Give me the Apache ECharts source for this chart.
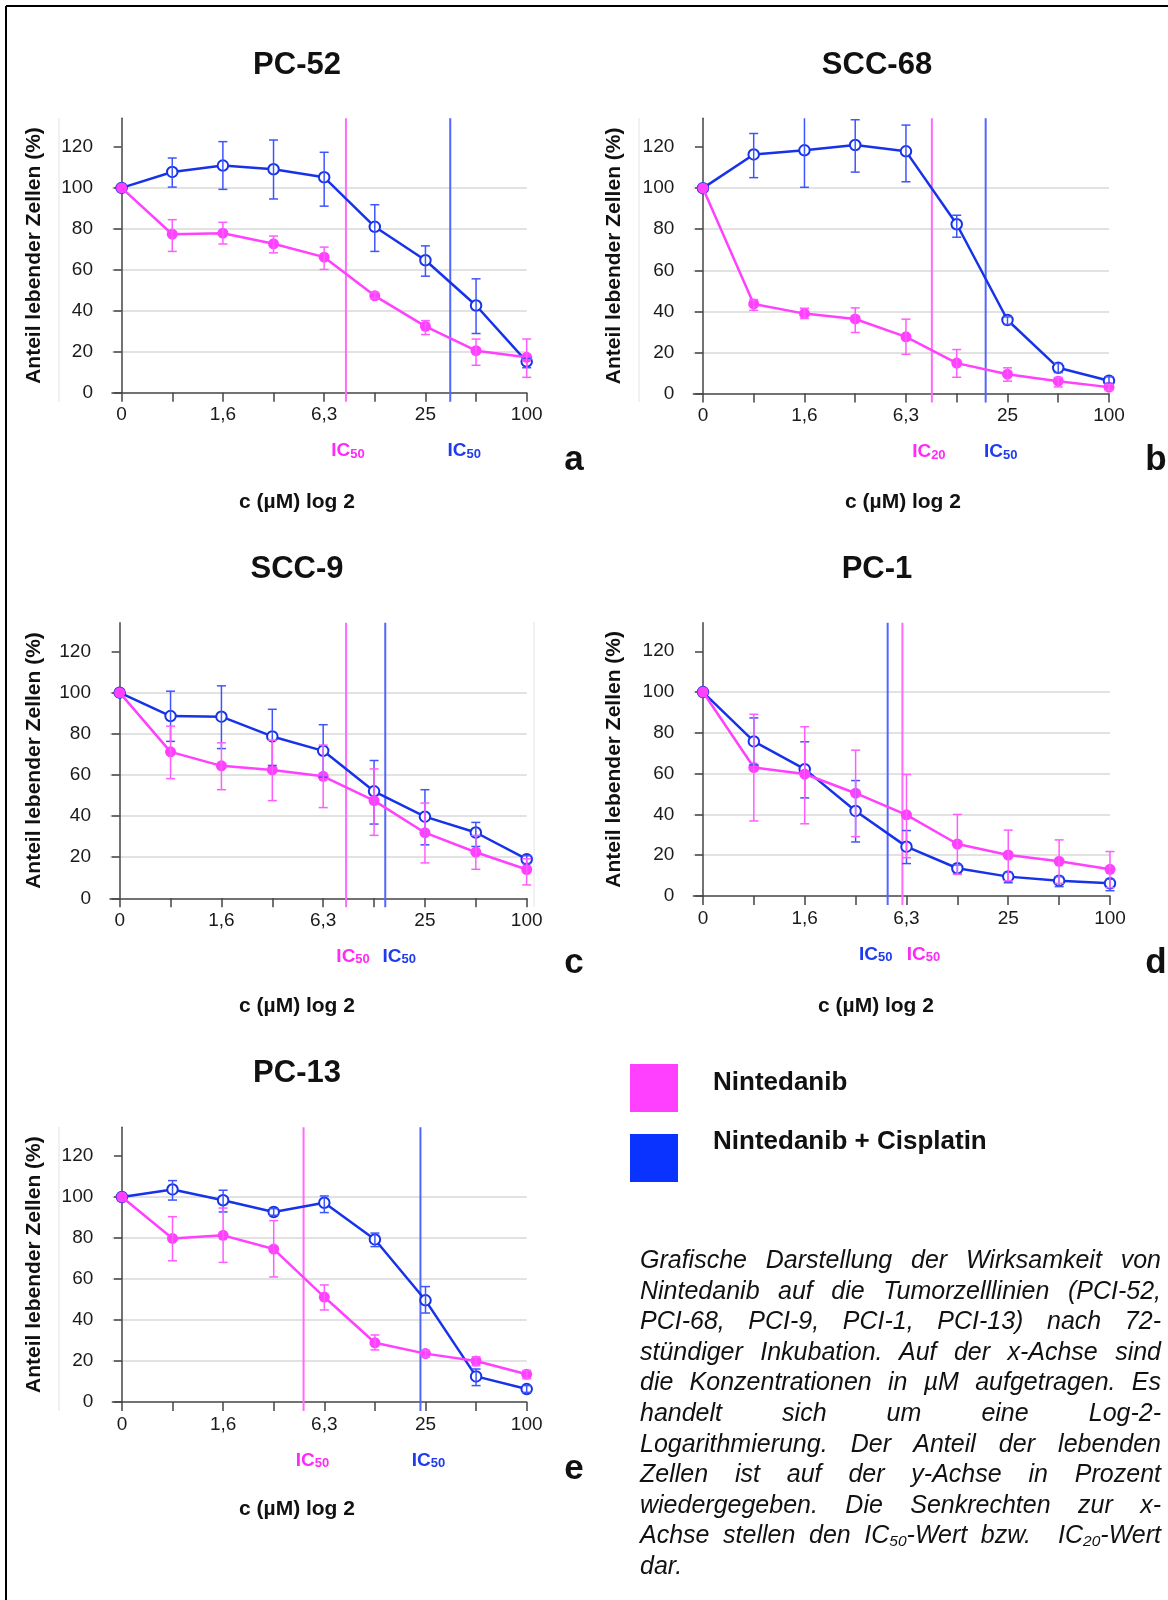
<!DOCTYPE html>
<html>
<head>
<meta charset="utf-8">
<script src="https://cdn.jsdelivr.net/npm/echarts@6/dist/echarts.min.js"></script>
<style>
html,body{margin:0;padding:0;background:#fff;}
#chart{position:absolute;left:0;top:0;width:1168px;height:1600px;}
#caption{position:absolute;left:640px;top:1244px;width:521px;font-family:"Liberation Sans",Arial,sans-serif;font-style:italic;font-size:25px;line-height:30.6px;color:#111;}
#caption .j{text-align:justify;text-align-last:justify;}
#caption sub{font-size:0.62em;line-height:0;vertical-align:-0.2em;}
</style>
</head>
<body>
<div id="chart"></div>
<div id="caption">
<div class="j">Grafische Darstellung der Wirksamkeit von</div>
<div class="j">Nintedanib auf die Tumorzelllinien (PCI-52,</div>
<div class="j">PCI-68, PCI-9, PCI-1, PCI-13) nach 72-</div>
<div class="j">stündiger Inkubation. Auf der x-Achse sind</div>
<div class="j">die Konzentrationen in µM aufgetragen. Es</div>
<div class="j">handelt sich um eine Log-2-</div>
<div class="j">Logarithmierung. Der Anteil der lebenden</div>
<div class="j">Zellen ist auf der y-Achse in Prozent</div>
<div class="j">wiedergegeben. Die Senkrechten zur x-</div>
<div class="j">Achse stellen den IC<sub>50</sub>-Wert bzw. &nbsp;IC<sub>20</sub>-Wert</div>
<div>dar.</div>
</div>
<script>
// ---------------- DATA ----------------
const panelNames = ['PC-52', 'SCC-68', 'SCC-9', 'PC-1', 'PC-13'];
const panelLetters = ['a', 'b', 'c', 'd', 'e'];
const seriesNames = ['Nintedanib', 'Nintedanib + Cisplatin'];
const xAxisTitle = 'c (µM) log 2';
const yAxisTitle = 'Anteil lebender Zellen (%)';
// concentration steps (log2 scale, index positions) and their tick labels
const concIndex = [0, 1, 2, 3, 4, 5, 6, 7, 8];
const xTickLabels = ['0', '', '1,6', '', '6,3', '', '25', '', '100'];
const xLabelSteps = [0, 2, 4, 6, 8];
const yTickValues = [0, 20, 40, 60, 80, 100, 120];

// PC-52 (a)
const ninA    = [100, 77.4, 77.9, 72.7, 66.2, 47.3, 32.4, 20.5, 17.3];
const ninAHi  = [null, 84.5, 83.2, 76.5, 71.1, 49.0, 35.2, 26.2, 26.2];
const ninALo  = [null, 69.0, 72.6, 68.3, 60.2, 46.0, 28.4, 13.4, 7.5];
const cisA    = [100, 107.8, 110.9, 109.1, 105.2, 81.0, 64.7, 42.6, 15.2];
const cisAHi  = [null, 114.6, 122.6, 123.4, 117.4, 91.8, 71.7, 55.6, 16.8];
const cisALo  = [null, 100.4, 99.3, 94.6, 91.1, 69.0, 56.9, 28.9, 12.2];
// SCC-68 (b)
const ninB    = [100, 43.6, 38.9, 36.3, 27.6, 14.8, 9.4, 6.0, 3.1];
const ninBHi  = [null, 45.7, 41.5, 41.7, 36.2, 21.4, 12.5, 7.8, 4.5];
const ninBLo  = [null, 40.5, 36.5, 29.7, 19.1, 7.9, 6.0, 3.2, 1.5];
const cisB    = [100, 116.4, 118.4, 121.0, 117.9, 82.4, 35.8, 12.5, 6.2];
const cisBHi  = [null, 126.6, 136.0, 133.3, 130.7, 86.8, 37.3, 14.6, 8.1];
const cisBLo  = [null, 105.1, 100.4, 107.8, 103.1, 76.1, 33.6, 10.2, 4.9];
// SCC-9 (c)
const ninC    = [100, 71.2, 64.4, 62.4, 59.3, 47.5, 31.9, 22.4, 14.0];
const ninCHi  = [null, 83.7, 75.6, 76.9, 74.5, 62.9, 46.3, 30.6, 19.2];
const ninCLo  = [null, 58.2, 52.8, 47.5, 44.1, 30.6, 17.2, 14.1, 6.5];
const cisC    = [100, 88.6, 88.3, 78.7, 71.7, 52.0, 39.7, 32.0, 19.0];
const cisCHi  = [null, 100.7, 103.3, 91.9, 84.4, 67.0, 52.8, 36.9, 20.7];
const cisCLo  = [null, 76.3, 72.8, 64.6, 58.9, 36.1, 26.0, 25.2, 16.9];
// PC-1 (d)
const ninD    = [100, 63.0, 59.8, 50.4, 39.8, 25.5, 20.1, 17.0, 13.1];
const ninDHi  = [null, 89.1, 83.0, 71.5, 59.6, 40.0, 32.3, 27.5, 21.8];
const ninDLo  = [null, 36.8, 35.4, 29.1, 18.8, 10.6, 7.4, 6.2, 4.1];
const cisD    = [100, 75.8, 62.2, 41.7, 24.2, 13.6, 9.5, 7.5, 6.2];
const cisDHi  = [null, 87.3, 75.6, 56.6, 32.1, 15.2, 11.6, 9.5, 8.2];
const cisDLo  = [null, 64.3, 48.1, 26.5, 15.9, 10.8, 6.5, 4.6, 2.6];
// PC-13 (e)
const ninE    = [100, 79.8, 81.3, 74.6, 51.2, 28.9, 23.6, 20.0, 13.5];
const ninEHi  = [null, 90.4, 94.6, 88.5, 57.1, 32.7, 25.2, 22.0, 15.4];
const ninELo  = [null, 68.9, 68.1, 61.0, 44.9, 25.4, 22.0, 17.7, 11.4];
const cisE    = [100, 103.7, 98.4, 92.7, 97.2, 79.3, 49.6, 12.5, 6.3];
const cisEHi  = [null, 108.0, 103.3, 94.3, 100.5, 82.4, 56.3, 16.1, 8.0];
const cisELo  = [null, 98.5, 92.7, 91.1, 92.4, 75.8, 43.4, 8.0, 4.7];

// IC positions on the log2 index scale
const icNin = [4.43, 4.51, 4.45, 3.92, 3.59];
const icCis = [6.49, 5.57, 5.22, 3.63, 5.90];
const icNinSub = ['50', '20', '50', '50', '50'];
const icCisSub = ['50', '50', '50', '50', '50'];

// ---------------- LAYOUT / STYLE ----------------
const FONT = '"Liberation Sans", Arial, Helvetica, sans-serif';
const Y_MAX = 134;
const X_MIN = -0.19;
const MAG = '#ff40ff', MAG_ERR = '#ff5cff', MAG_IC = '#ff6bff', MAG_TXT = '#ff2af7';
const BLU = '#1733e8', BLU_ERR = '#3d55ff', BLU_IC = '#5166ff', BLU_TXT = '#1f3bf0';
const AXIS = '#444';
const layout = [
  {left: 112,   top: 118.3,  width: 414.7, height: 274.4, nameX: 34,    title: [297, 65],   xname: [297, 502],  letter: [574, 460],  icDx: [2, 14]},
  {left: 693.3, top: 118.3,  width: 415.7, height: 275.2, nameX: 614.5, title: [877, 65],   xname: [903, 502],  letter: [1156, 460], icDx: [-3, 15]},
  {left: 110,   top: 622.7,  width: 416.7, height: 275.6, nameX: 34,    title: [297, 569],  xname: [297, 1006], letter: [574, 963],  icDx: [7, 14]},
  {left: 693.3, top: 622.7,  width: 416.7, height: 273.3, nameX: 614.5, title: [877, 569],  xname: [876, 1006], letter: [1156, 963], icDx: [21, -12]},
  {left: 112.3, top: 1127.3, width: 414.4, height: 274.7, nameX: 34,    title: [297, 1073], xname: [297, 1509], letter: [574, 1469], icDx: [9, 8]}
];

const nin = [ninA, ninB, ninC, ninD, ninE];
const ninHi = [ninAHi, ninBHi, ninCHi, ninDHi, ninEHi];
const ninLo = [ninALo, ninBLo, ninCLo, ninDLo, ninELo];
const cis = [cisA, cisB, cisC, cisD, cisE];
const cisHi = [cisAHi, cisBHi, cisCHi, cisDHi, cisEHi];
const cisLo = [cisALo, cisBLo, cisCLo, cisDLo, cisELo];

function errData(lo, hi) {
  const out = [];
  concIndex.forEach((x, j) => { if (lo[j] != null && hi[j] != null) out.push([x, lo[j], hi[j]]); });
  return out;
}
function errRender(color) {
  return function (params, api) {
    const x = api.value(0), lo = api.value(1), hi = api.value(2);
    const hiC = Math.min(hi, Y_MAX);
    const t = api.coord([x, hiC]);
    const b = api.coord([x, lo]);
    const hw = 4.5;
    const st = {stroke: color, lineWidth: 1.5};
    const ch = [{type: 'line', shape: {x1: t[0], y1: t[1], x2: b[0], y2: b[1]}, style: st}];
    if (hi <= Y_MAX) ch.push({type: 'line', shape: {x1: t[0] - hw, y1: t[1], x2: t[0] + hw, y2: t[1]}, style: st});
    ch.push({type: 'line', shape: {x1: b[0] - hw, y1: b[1], x2: b[0] + hw, y2: b[1]}, style: st});
    return {type: 'group', children: ch};
  };
}

const grids = [], xAxes = [], yAxes = [], series = [], graphics = [];
panelNames.forEach((pname, i) => {
  const L = layout[i];
  grids.push({left: L.left, top: L.top, width: L.width, height: L.height});
  xAxes.push({
    gridIndex: i, type: 'value', min: X_MIN, max: 8,
    axisLine: {show: true, onZero: false, lineStyle: {color: AXIS, width: 1.5}},
    axisTick: {show: true, length: 9, customValues: concIndex, lineStyle: {color: AXIS, width: 1.5}},
    axisLabel: {customValues: xLabelSteps, formatter: v => xTickLabels[Math.round(v)], margin: 13,
      fontSize: 19, color: '#1a1a1a', fontFamily: FONT},
    splitLine: {show: false}
  });
  yAxes.push({
    gridIndex: i, type: 'value', min: 0, max: Y_MAX, interval: 20,
    name: yAxisTitle, nameLocation: 'middle', nameGap: L.left - L.nameX - 10.5,
    nameTextStyle: {fontSize: 21, fontWeight: 'bold', color: '#111', fontFamily: FONT},
    axisLine: {show: true, lineStyle: {color: AXIS, width: 1.5}},
    axisTick: {show: true, length: 8, customValues: yTickValues, lineStyle: {color: AXIS, width: 1.5}},
    axisLabel: {customValues: yTickValues, margin: 19, fontSize: 19, color: '#1a1a1a', fontFamily: FONT},
    splitLine: {show: true, showMinLine: false, showMaxLine: false, lineStyle: {color: '#d9d9d9', width: 1.5}}
  });
  // IC lines + labels
  series.push({
    type: 'custom', name: 'ic-' + i, xAxisIndex: i, yAxisIndex: i, z: 1, silent: true,
    data: [[icNin[i], 0], [icCis[i], 1]],
    encode: {x: 0},
    renderItem: function (params, api) {
      const x = api.value(0), kind = api.value(1);
      const top = api.coord([x, Y_MAX]);
      const bot = api.coord([x, 0]);
      const lineColor = kind === 0 ? MAG_IC : BLU_IC;
      const txtColor = kind === 0 ? MAG_TXT : BLU_TXT;
      const sub = kind === 0 ? icNinSub[i] : icCisSub[i];
      const dx = L.icDx[kind];
      return {type: 'group', children: [
        {type: 'line', shape: {x1: top[0], y1: top[1], x2: bot[0], y2: bot[1] + 9}, style: {stroke: lineColor, lineWidth: 2}},
        {type: 'text', x: bot[0] + dx, y: bot[1] + 57, style: {
          text: '{m|IC}{s|' + sub + '}', fill: txtColor, align: 'center', verticalAlign: 'middle',
          rich: {
            m: {fontSize: 19, fontWeight: 'bold', fontFamily: FONT, fill: txtColor, lineHeight: 22, verticalAlign: 'bottom'},
            s: {fontSize: 13, fontWeight: 'bold', fontFamily: FONT, fill: txtColor, lineHeight: 12, verticalAlign: 'bottom'}
          }
        }}
      ]};
    }
  });
  series.push({
    type: 'line', name: seriesNames[1], xAxisIndex: i, yAxisIndex: i, z: 3,
    data: concIndex.map((x, j) => [x, cis[i][j]]),
    symbol: 'emptyCircle', symbolSize: 10.5,
    itemStyle: {color: BLU, borderWidth: 1.5},
    lineStyle: {color: BLU, width: 2.5}
  });
  series.push({
    type: 'line', name: seriesNames[0], xAxisIndex: i, yAxisIndex: i, z: 4,
    data: concIndex.map((x, j) => [x, nin[i][j]]),
    symbol: 'circle', symbolSize: 11,
    itemStyle: {color: MAG},
    lineStyle: {color: MAG, width: 2.5}
  });
  series.push({
    type: 'custom', name: 'err-cis-' + i, xAxisIndex: i, yAxisIndex: i, z: 5, silent: true,
    data: errData(cisLo[i], cisHi[i]), encode: {x: 0, y: [1, 2]},
    renderItem: errRender(BLU_ERR)
  });
  series.push({
    type: 'custom', name: 'err-nin-' + i, xAxisIndex: i, yAxisIndex: i, z: 5, silent: true,
    data: errData(ninLo[i], ninHi[i]), encode: {x: 0, y: [1, 2]},
    renderItem: errRender(MAG_ERR)
  });
  graphics.push({type: 'text', x: L.title[0], y: L.title[1], style: {text: pname, font: 'bold 31px ' + FONT, fill: '#111', align: 'center', verticalAlign: 'middle'}});
  graphics.push({type: 'text', x: L.xname[0], y: L.xname[1], style: {text: xAxisTitle, font: 'bold 21px ' + FONT, fill: '#111', align: 'center', verticalAlign: 'middle'}});
  graphics.push({type: 'text', x: L.letter[0], y: L.letter[1], style: {text: panelLetters[i], font: 'bold 35px ' + FONT, fill: '#111', align: 'center', verticalAlign: 'middle'}});
});

// frame and faint panel edges
graphics.push({type: 'line', shape: {x1: 6, y1: 6, x2: 1168, y2: 6}, style: {stroke: '#000', lineWidth: 2}});
graphics.push({type: 'line', shape: {x1: 6, y1: 6, x2: 6, y2: 1600}, style: {stroke: '#000', lineWidth: 2}});
graphics.push({type: 'line', shape: {x1: 59, y1: 118, x2: 59, y2: 402}, style: {stroke: '#e2e2e2', lineWidth: 1}});
graphics.push({type: 'line', shape: {x1: 639, y1: 118, x2: 639, y2: 402}, style: {stroke: '#e2e2e2', lineWidth: 1}});
graphics.push({type: 'line', shape: {x1: 534, y1: 622, x2: 534, y2: 907}, style: {stroke: '#e2e2e2', lineWidth: 1}});
graphics.push({type: 'line', shape: {x1: 59, y1: 1127, x2: 59, y2: 1411}, style: {stroke: '#e2e2e2', lineWidth: 1}});

const chart = echarts.init(document.getElementById('chart'), null, {renderer: 'canvas'});
chart.setOption({
  animation: false,
  backgroundColor: '#fff',
  grid: grids,
  xAxis: xAxes,
  yAxis: yAxes,
  legend: {
    left: 625, top: 1059, orient: 'vertical', icon: 'rect',
    itemWidth: 48, itemHeight: 48, itemGap: 16.5, selectedMode: false,
    data: [
      {name: seriesNames[0], itemStyle: {color: '#ff40ff', borderWidth: 0}},
      {name: seriesNames[1], itemStyle: {color: '#0a33ff', borderWidth: 0}}
    ],
    formatter: function (name) {
      return '{t|' + name + '}\n' + (name === seriesNames[0] ? '{g1| }' : '{g2| }');
    },
    textStyle: {
      fontSize: 26, fontWeight: 'bold', color: '#111', fontFamily: FONT, padding: [0, 0, 0, 30],
      rich: {
        t: {fontSize: 26, fontWeight: 'bold', color: '#111', fontFamily: FONT, lineHeight: 30},
        g1: {fontSize: 1, lineHeight: 11},
        g2: {fontSize: 1, lineHeight: 33}
      }
    }
  },
  graphic: graphics,
  series: series
});
</script>
</body>
</html>
